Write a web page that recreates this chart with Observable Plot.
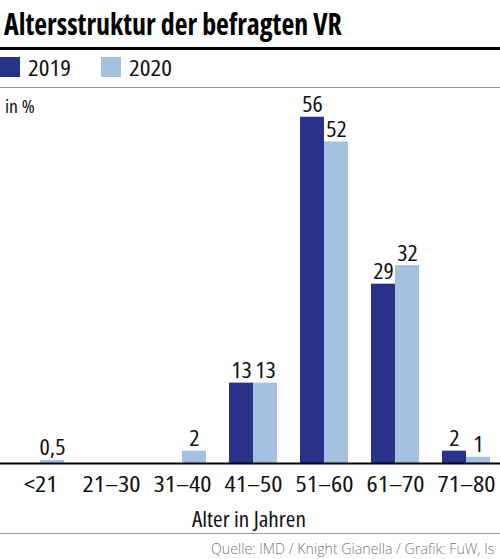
<!DOCTYPE html>
<html><head><meta charset="utf-8">
<script src="https://cdn.jsdelivr.net/npm/d3@7"></script>
<script src="https://cdn.jsdelivr.net/npm/@observablehq/plot@0.6"></script>
<style>
html,body{margin:0;padding:0;background:#fff;}
#wrap{position:relative;width:500px;height:559px;overflow:hidden;font-family:"Open Sans",sans-serif;font-stretch:condensed;color:#111;}
.abs{position:absolute;white-space:nowrap;line-height:1;}
.wide{transform:scaleX(1.2);transform-origin:left top;}
#title{left:4px;top:7.5px;font-size:31px;font-weight:bold;color:#000;transform:scaleX(0.9);transform-origin:left top;}
#rule1{left:0;top:46.5px;width:500px;height:3px;background:#000;}
.sw{top:57px;width:20px;height:20px;}
.lg{top:57.7px;font-size:21px;}
#rule2{left:0;top:86.5px;width:500px;height:1.5px;background:#999;}
#unit{left:5px;top:96.7px;font-size:18px;transform:scaleX(1.1);transform-origin:left top;}
#plot{left:0;top:88px;}
#xlab{left:0;width:498px;text-align:center;top:506.5px;font-size:22px;transform:scaleX(1.06);transform-origin:249px top;}
#rule3{left:0;top:532.5px;width:500px;height:1.5px;background:#999;}
#cap{left:211px;top:542px;font-size:14.2px;font-stretch:normal;font-weight:300;color:#777;}
</style>
</head><body>
<div id="wrap">
  <div id="title" class="abs">Altersstruktur der befragten VR</div>
  <div id="rule1" class="abs"></div>
  <div id="legend"></div>
  <div id="rule2" class="abs"></div>
  <div id="plot" class="abs"></div>
  <div id="unit" class="abs">in %</div>
  <div id="xlab" class="abs">Alter in Jahren</div>
  <div id="rule3" class="abs"></div>
  <div id="cap" class="abs">Quelle: IMD / Knight Gianella / Grafik: FuW, Is</div>
</div>
<script>
const groups = ["<21", "21–30", "31–40", "41–50", "51–60", "61–70", "71–80"];
const years = ["2019", "2020"];
const values2019 = [null, null, null, 13, 56, 29, 2];
const values2020 = [0.5, null, 2, 13, 52, 32, 1];
const colors = ["#29328a", "#a4c2e0"];

// legend
const legend = document.getElementById("legend");
const legendX = [[0, 28], [101, 129]];
years.forEach((y, i) => {
  const s = document.createElement("div");
  s.className = "abs sw"; s.style.left = legendX[i][0] + "px"; s.style.background = colors[i];
  legend.appendChild(s);
  const t = document.createElement("div");
  t.className = "abs lg wide"; t.style.left = legendX[i][1] + "px"; t.textContent = y;
  legend.appendChild(t);
});

const data = [];
groups.forEach((g, i) => {
  data.push({group: g, year: years[0], value: values2019[i]});
  data.push({group: g, year: years[1], value: values2020[i]});
});
const shown = data.filter(d => d.value != null);
const fmt = v => String(v).replace(".", ",");

const chart = Plot.plot({
  width: 500,
  height: 412,
  marginTop: 4,
  marginBottom: 37,
  marginLeft: 6,
  marginRight: 0,
  style: {fontFamily: '"Open Sans",sans-serif', fontSize: "22px", color: "#111", background: "transparent", overflow: "visible"},
  fx: {domain: groups, paddingInner: 0.3, paddingOuter: 0.1, label: null, tickSize: 0, tickPadding: 13, axis: "bottom"},
  x: {domain: years, padding: 0.02, axis: null},
  y: {domain: [0, 60], axis: null},
  color: {domain: years, range: colors},
  marks: [
    Plot.barY(shown, {fx: "group", x: "year", y: "value", fill: "year"}),
    Plot.text(shown, {fx: "group", x: "year", y: "value", text: d => fmt(d.value), lineAnchor: "bottom", dy: -5, fill: "#111", fontSize: 22, className: "vlabel"})
  ]
});
chart.style.fontStretch = "condensed";
document.getElementById("plot").appendChild(chart);
// widen the condensed glyphs to match the reference's semi-condensed face
chart.querySelectorAll("text").forEach(t => {
  const L = t.getComputedTextLength();
  const f = t.closest(".vlabel") ? 1.1 : 1.2;
  if (L > 0) {
    t.setAttribute("textLength", (L * f).toFixed(2));
    t.setAttribute("lengthAdjust", "spacingAndGlyphs");
  }
});

// full-width baseline drawn through the plot's y scale
const base = Plot.plot({
  width: 500, height: 412, marginTop: 4, marginBottom: 37, marginLeft: 0, marginRight: 0,
  style: {background: "transparent"},
  y: {domain: [0, 60], axis: null},
  marks: [Plot.ruleY([0], {stroke: "#000", strokeWidth: 2.2})]
});
base.style.position = "absolute"; base.style.left = "0"; base.style.top = "0";
document.getElementById("plot").appendChild(base);
</script>
</body></html>
